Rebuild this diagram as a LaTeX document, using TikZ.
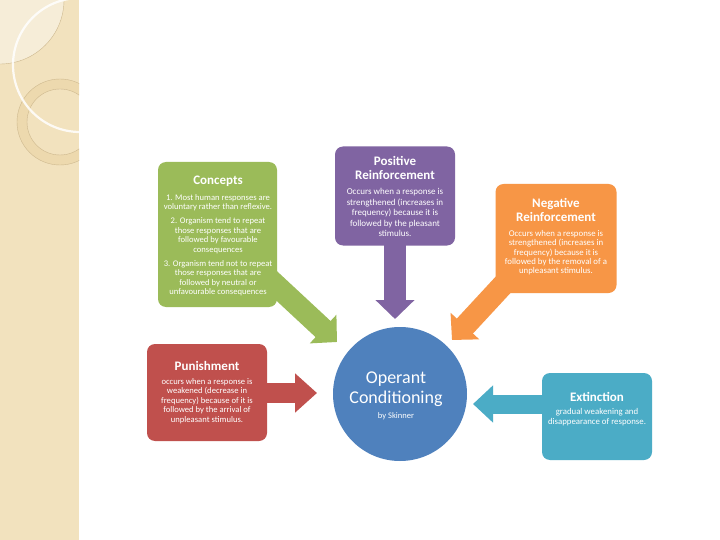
\documentclass[tikz,border=0pt]{standalone}
\usepackage{fontspec}
\setmainfont{Carlito}
\usetikzlibrary{arrows.meta}
\definecolor{cgreen}{HTML}{9BBB59}
\definecolor{cpurple}{HTML}{8064A2}
\definecolor{corange}{HTML}{F79646}
\definecolor{cred}{HTML}{C0504D}
\definecolor{cext}{HTML}{4BACC6}
\definecolor{ccirc}{HTML}{4F81BD}
\definecolor{beige}{HTML}{F2E2BE}
\definecolor{beigeD}{HTML}{EDD9AE}
\definecolor{beigeL}{HTML}{F6EDD8}
\definecolor{tanline}{HTML}{CDB88E}
\begin{document}
\begin{tikzpicture}[x=1pt,y=-1pt,
  box/.style={rounded corners=8pt, draw=none, inner sep=0pt},
  ttl/.style={text=white, font=\bfseries\fontsize{13}{13.5}\selectfont, align=center, inner sep=0pt},
  bdy/.style={text=white, font=\fontsize{8.6}{9.6}\selectfont, align=center, inner sep=0pt, anchor=north},
  arr/.style={line width=22pt, -{Triangle[length=19pt,width=38pt]}}
]
\useasboundingbox (0,0) rectangle (720,540);
\fill[white] (0,0) rectangle (720,540);
% sidebar
\fill[beige] (0,0) rectangle (79,540);
\begin{scope}
\clip (0,0) rectangle (79,540);
\fill[beigeL] (0,0) circle (64);
\draw[tanline, line width=0.4pt] (0,0) circle (64);
\fill[beigeD, even odd rule] (60,122) circle (43) (60,122) circle (33);
\draw[tanline, line width=0.4pt] (60,122) circle (43);
\draw[tanline, line width=0.4pt] (60,122) circle (33);
\draw[white, opacity=0.85, line width=2.2pt] (80,65) circle (67);
\end{scope}

% arrows (connectors)
\coordinate (pS) at (395,240);
\coordinate (pT) at (395,319);
\coordinate (gS) at (266,276);
\coordinate (gT) at (337,342);
\coordinate (oS) at (514,273);
\coordinate (oT) at (452,340);
\coordinate (rS) at (255,393);
\coordinate (rT) at (317,393);
\coordinate (bS) at (556,404);
\coordinate (bT) at (473,404);
\draw[arr, cpurple] (pS) -- (pT);
\draw[arr, cgreen] (gS) -- (gT);
\draw[arr, corange] (oS) -- (oT);
\draw[cred, line width=20pt, -{Triangle[length=22pt,width=38pt]}] (rS) -- (rT);
\draw[cext, line width=19pt, -{Triangle[length=20pt,width=36pt]}] (bS) -- (bT);

% boxes
\node[box, fill=cgreen, minimum width=119pt, minimum height=145pt] (concepts) at (217.5,234.5) {};
\node[box, fill=cpurple, minimum width=120pt, minimum height=99pt] (positive) at (395,196) {};
\node[box, fill=corange, minimum width=121pt, minimum height=109pt] (negative) at (556,238.5) {};
\node[box, fill=cred, minimum width=120pt, minimum height=97pt] (punish) at (207,392.5) {};
\node[box, fill=cext, minimum width=110pt, minimum height=87pt] (extinct) at (597,416.5) {};
\node[circle, fill=ccirc, minimum size=134pt, inner sep=0pt] (oc) at (400,394) {};

% texts
\node[ttl] (conT) at (218,181) {Concepts};
\node[bdy] (conB) at (218,194) {1. Most human responses are\\ voluntary rather than reflexive.\\[4.2pt]
2. Organism tend to repeat\\ those responses that are\\ followed by favourable\\ consequences\\[4.2pt]
3. Organism tend not to repeat\\ those responses that are\\ followed by neutral or\\ unfavourable consequences};

\node[ttl] (posT) at (395,168) {Positive\\ Reinforcement};
\node[bdy, font=\fontsize{9}{10.6}\selectfont] (posB) at (395,188) {Occurs when a response is\\ strengthened (increases in\\ frequency) because it is\\ followed by the pleasant\\ stimulus.};

\node[ttl] (negT) at (556,210) {Negative\\ Reinforcement};
\node[bdy, font=\fontsize{8.8}{9.4}\selectfont] (negB) at (556,230) {Occurs when a response is\\ strengthened (increases in\\ frequency) because it is\\ followed by the removal of a\\ unpleasant stimulus.};

\node[ttl] (punT) at (207,365.5) {Punishment};
\node[bdy] (punB) at (207,378) {occurs when a response is\\ weakened (decrease in\\ frequency) because of it is\\ followed by the arrival of\\ unpleasant stimulus.};

\node[ttl] (extT) at (597,397) {Extinction};
\node[bdy, font=\fontsize{8.8}{10}\selectfont] (extB) at (597,408) {gradual weakening and\\ disappearance of response.};

\node[text=white, font=\fontsize{18}{20.5}\selectfont, align=center, inner sep=0pt] (opT) at (396,389) {Operant\\ Conditioning};
\node[text=white, font=\fontsize{8.5}{9}\selectfont, inner sep=0pt] (opB) at (396,416) {by Skinner};
\end{tikzpicture}
\end{document}
